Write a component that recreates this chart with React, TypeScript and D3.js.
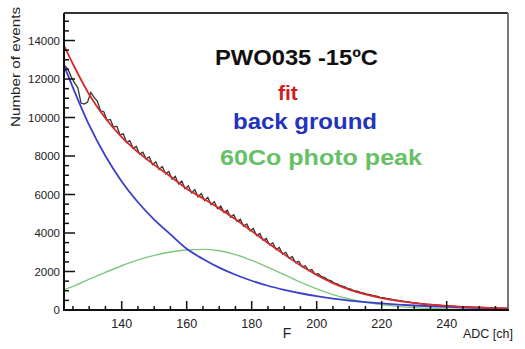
import React from "react";
import * as d3 from "d3";

// ADC channel grid used for the fitted components
const fitChannels = [122, 125, 130, 135, 140, 145, 150, 155, 160, 165, 170, 175, 180, 185, 190, 195, 200, 205, 210, 215, 220, 225, 230, 235, 240, 245, 250, 255, 259];

// exponential background component
const backgroundValues = [12800, 11550, 9600, 8000, 6680, 5600, 4700, 3930, 3180, 2650, 2200, 1830, 1520, 1260, 1050, 870, 720, 595, 490, 410, 340, 280, 235, 195, 160, 130, 110, 90, 80];

// 60Co photo peak component
const peakValues = [1030, 1230, 1600, 1960, 2300, 2600, 2840, 3010, 3120, 3150, 3080, 2880, 2580, 2220, 1840, 1450, 1100, 800, 570, 400, 280, 190, 125, 80, 50, 30, 20, 10, 5];

// total fit (background + photo peak)
const fitValues = [13830, 12780, 11200, 9960, 8980, 8200, 7540, 6940, 6300, 5800, 5280, 4710, 4100, 3480, 2890, 2320, 1820, 1395, 1060, 810, 620, 470, 360, 275, 210, 160, 130, 100, 85];

// measured spectrum, one bin per ADC channel starting at channel 122
const histStart = 122;
const histCounts = [
  12700, 12500, 12100, 11800, 11550, 10750, 10700, 10800, 11300, 11050,
  10850, 10350, 10300, 9850, 9900, 9500, 9550, 9100, 9150, 8700,
  8800, 8400, 8500, 8100, 8200, 7850, 7950, 7550, 7700, 7300,
  7450, 7080, 7200, 6800, 6950, 6550, 6700, 6300, 6450, 6080,
  6250, 5880, 6050, 5680, 5850, 5470, 5620, 5260, 5400, 5060,
  5180, 4820, 4950, 4600, 4720, 4350, 4470, 4110, 4230, 3870,
  3980, 3620, 3720, 3380, 3480, 3140, 3250, 2910, 3000, 2690,
  2770, 2460, 2530, 2240, 2300, 2050, 2100, 1850, 1880, 1730,
  1680, 1560, 1520, 1390, 1350, 1250, 1210, 1120, 1080, 1000,
  980, 920, 880, 820, 800, 740, 720, 660, 640, 600,
  580, 540, 510, 480, 460, 430, 410, 380, 370, 340,
  320, 300, 290, 280, 260, 250, 230, 220, 210, 200,
  190, 180, 170, 160, 150, 150, 140, 130, 130, 120,
  110, 110, 100, 100,
];

const xTicks = [140, 160, 180, 200, 220, 240];
const yTicks = [0, 2000, 4000, 6000, 8000, 10000, 12000, 14000];

const W = 525;
const H = 349;
const left = 64;
const right = 508;
const top = 13;
const bottom = 310;

const numFont = "'Liberation Sans Narrow', 'Arial Narrow', 'Liberation Sans', Arial, sans-serif";
const font = "'Liberation Sans', Arial, Helvetica, sans-serif";

export default function App() {
  const x = d3.scaleLinear().domain([122.25, 258.86]).range([left, right]);
  const y = d3.scaleLinear().domain([0, 15430]).range([bottom, top]);

  const curve = (vals: number[]) =>
    d3
      .line<number>()
      .x((_, i) => x(fitChannels[i]))
      .y((v) => y(v))
      .curve(d3.curveMonotoneX)(vals) || "";

  // spectrum drawn as a polyline through the bin centres
  const histPath =
    d3
      .line<number>()
      .x((_, i) => x(histStart + i + 0.5))
      .y((v) => y(v))(histCounts) || "";

  const xMinor = d3.range(125, 259, 5).filter((v) => v % 20 !== 0);
  const yMinor = d3.range(0, 15430, 500).filter((v) => v % 2000 !== 0);

  return (
    <svg width={W} height={H} style={{ position: "absolute", left: 0, top: 0, background: "#fff" }}>
      <defs>
        <clipPath id="plotArea">
          <rect x={left} y={top} width={right - left} height={bottom - top} />
        </clipPath>
      </defs>

      {/* frame */}
      <rect x={left} y={top} width={right - left} height={bottom - top} fill="#fff" stroke="none" />
      <line x1={left} y1={top} x2={right} y2={top} stroke="#333" strokeWidth={2} />
      <line x1={right} y1={top} x2={right} y2={bottom} stroke="#777" strokeWidth={2} />

      <g clipPath="url(#plotArea)">
        <path d={histPath} fill="none" stroke="#333" strokeWidth={1.3} />
        <path d={curve(peakValues)} fill="none" stroke="#7cc87c" strokeWidth={1.4} />
        <path d={curve(backgroundValues)} fill="none" stroke="#3a3fcc" strokeWidth={1.8} />
        <path d={curve(fitValues)} fill="none" stroke="#d42a2a" strokeWidth={1.8} />
      </g>

      {/* y axis */}
      <line x1={left} y1={top} x2={left} y2={bottom + 1} stroke="#111" strokeWidth={2} />
      {yMinor.map((v) => (
        <line key={"ym" + v} x1={left} x2={left + 5} y1={y(v)} y2={y(v)} stroke="#111" strokeWidth={1.5} />
      ))}
      {yTicks.map((v) => (
        <g key={"y" + v}>
          <line x1={left} x2={left + 11} y1={y(v)} y2={y(v)} stroke="#111" strokeWidth={1.5} />
          <text x={60} y={y(v) + 4} textAnchor="end" fontFamily={numFont} fontSize={11.5} fill="#222">
            {v}
          </text>
        </g>
      ))}

      {/* x axis */}
      <line x1={left - 1} y1={bottom} x2={right + 1} y2={bottom} stroke="#111" strokeWidth={2} />
      {xMinor.map((v) => (
        <line key={"xm" + v} x1={x(v)} x2={x(v)} y1={bottom} y2={bottom - 4} stroke="#111" strokeWidth={1.5} />
      ))}
      {xTicks.map((v) => (
        <g key={"x" + v}>
          <line x1={x(v)} x2={x(v)} y1={bottom} y2={bottom - 9} stroke="#111" strokeWidth={1.5} />
          <text x={x(v)} y={328} textAnchor="middle" fontFamily={numFont} fontSize={12.5} fill="#222">
            {v}
          </text>
        </g>
      ))}

      {/* axis titles */}
      <text
        transform="translate(20,67) rotate(-90)"
        textAnchor="middle"
        fontFamily={font}
        fontSize={12}
        fill="#222"
        textLength={120}
        lengthAdjust="spacingAndGlyphs"
      >
        Number of events
      </text>
      <text x={287} y={338} textAnchor="middle" fontFamily={font} fontSize={14} fill="#222">
        F
      </text>
      <text x={513} y={338} textAnchor="end" fontFamily={font} fontSize={12.5} fill="#222">
        ADC [ch]
      </text>

      {/* legend */}
      <text x={215} y={65} fontFamily={font} fontWeight="bold" fontSize={22} fill="#111" textLength={163} lengthAdjust="spacingAndGlyphs">
        PWO035 -15ºC
      </text>
      <text x={278} y={100} fontFamily={font} fontWeight="bold" fontSize={21} fill="#d41c1c">
        fit
      </text>
      <text x={233} y={129} fontFamily={font} fontWeight="bold" fontSize={22} fill="#2233c0" textLength={144} lengthAdjust="spacingAndGlyphs">
        back ground
      </text>
      <text x={220} y={165} fontFamily={font} fontWeight="bold" fontSize={22} fill="#66c066" textLength={202} lengthAdjust="spacingAndGlyphs">
        60Co photo peak
      </text>
    </svg>
  );
}
